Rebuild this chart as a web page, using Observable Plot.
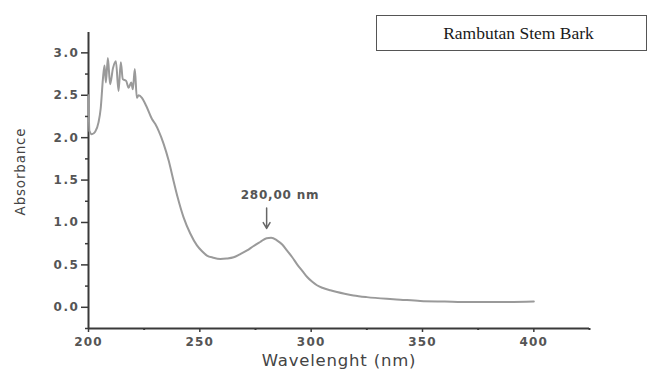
<!DOCTYPE html>
<html>
<head>
<meta charset="utf-8">
<script src="https://cdn.jsdelivr.net/npm/d3@7"></script>
<script src="https://cdn.jsdelivr.net/npm/@observablehq/plot@0.6"></script>
<style>
  html, body { margin: 0; padding: 0; background: #fff; }
  #wrap { position: relative; width: 654px; height: 374px; }
  #legend {
    position: absolute; left: 376px; top: 15px; width: 271px; height: 36px;
    border: 1px solid #555; box-sizing: border-box;
    font-family: "Liberation Serif", "Times New Roman", serif; font-size: 17.5px; color: #1a1a1a;
    display: flex; align-items: center; justify-content: center; padding-left: 14px;
  }
  svg text { letter-spacing: 0.8px; }
  svg g[aria-label="y-axis tick label"] text { letter-spacing: 1.6px; }
  svg g[aria-label="x-axis tick label"] text { letter-spacing: 1.2px; }
</style>
</head>
<body>
<div id="wrap"><div id="legend">Rambutan Stem Bark</div></div>
<script>
const wavelength = [200, 200.4, 201.5, 203, 204.5, 205.5, 206.5, 207.2, 207.8, 208.7, 209.7, 211, 212.3, 213.5, 214.5, 215.4, 216.9, 218, 219.2, 219.9, 220.8, 221.7, 222.5, 224, 226, 228.5, 230, 231.5, 233.7, 236, 238.2, 240, 242.7, 245.7, 248.7, 251, 253.2, 256, 259.2, 262, 265.2, 268, 271.2, 274, 277.1, 280, 282, 284.6, 287, 289.1, 291.5, 293.6, 296, 298.1, 300.5, 302.6, 305, 308.6, 311.6, 315, 319, 325, 334, 340, 349, 360, 371.5, 385, 400];
const absorbance = [2.5, 2.08, 2.04, 2.07, 2.18, 2.35, 2.7, 2.85, 2.65, 2.94, 2.63, 2.82, 2.9, 2.55, 2.89, 2.69, 2.67, 2.59, 2.65, 2.57, 2.81, 2.47, 2.5, 2.47, 2.37, 2.22, 2.16, 2.08, 1.93, 1.73, 1.49, 1.3, 1.06, 0.87, 0.73, 0.66, 0.61, 0.585, 0.57, 0.575, 0.59, 0.625, 0.67, 0.72, 0.77, 0.815, 0.82, 0.79, 0.74, 0.67, 0.59, 0.51, 0.43, 0.36, 0.3, 0.26, 0.23, 0.2, 0.18, 0.16, 0.14, 0.12, 0.1, 0.09, 0.075, 0.068, 0.062, 0.062, 0.068];
const xTicks = [200, 250, 300, 350, 400];
const xMinor = [225, 275, 325, 375, 425];
const yTicks = [0, 0.5, 1.0, 1.5, 2.0, 2.5, 3.0];
const yMinor = [-0.25, 0.25, 0.75, 1.25, 1.75, 2.25, 2.75];
const peakLabel = ["280,00 nm"];
const peakX = [280];

const data = wavelength.map((w, i) => ({w, a: absorbance[i]}));

const axisColor = "#3a3a3a";
const labelColor = "#555";

const chart = Plot.plot({
  width: 654, height: 374,
  marginLeft: 88, marginRight: 65, marginTop: 32, marginBottom: 46,
  style: {fontFamily: "DejaVu Sans, sans-serif", fontSize: "12px", background: "transparent"},
  x: {domain: [200, 425]},
  y: {domain: [-0.25, 3.24]},
  marks: [
    Plot.axisY(yTicks, {tickSize: 7, tickPadding: 2, tickFormat: d3.format(".1f"), stroke: axisColor, strokeWidth: 1.5, fill: labelColor, fontWeight: "bold", fontSize: 12, label: null}),
    Plot.axisY(yMinor, {tickSize: 3, text: null, label: null, stroke: axisColor, strokeWidth: 1.5}),
    Plot.axisX(xTicks, {tickSize: 4, tickPadding: 5, tickFormat: d3.format("d"), stroke: axisColor, strokeWidth: 1.5, fill: labelColor, fontWeight: "bold", fontSize: 12, label: null}),
    Plot.axisX(xMinor, {tickSize: 2, text: null, label: null, stroke: axisColor, strokeWidth: 2}),
    Plot.ruleX([200], {stroke: axisColor, strokeWidth: 2}),
    Plot.ruleY([-0.25], {stroke: axisColor, strokeWidth: 2}),
    Plot.line(data, {x: "w", y: "a", stroke: "#9a9a9a", strokeWidth: 2, curve: "monotone-x"}),
    Plot.text(peakLabel, {x: [286], y: [1.32], text: d => d, fill: labelColor, fontWeight: "bold", fontSize: 12}),
    Plot.arrow(peakX, {x1: d => d, x2: d => d, y1: [1.17], y2: [0.93], stroke: "#666", strokeWidth: 1.5, headLength: 7, insetEnd: 0}),
    Plot.text(["Wavelenght (nm)"], {frameAnchor: "bottom", dy: 37, fill: "#444", fontSize: 16.5, fontWeight: 500}),
    Plot.text(["Absorbance"], {frameAnchor: "left", textAnchor: "middle", dx: -68, dy: -9, rotate: -90, fill: "#444", fontSize: 13.5})
  ]
});
document.getElementById("wrap").prepend(chart);
chart.style.position = "absolute";
chart.style.left = "0";
chart.style.top = "0";
</script>
</body>
</html>
